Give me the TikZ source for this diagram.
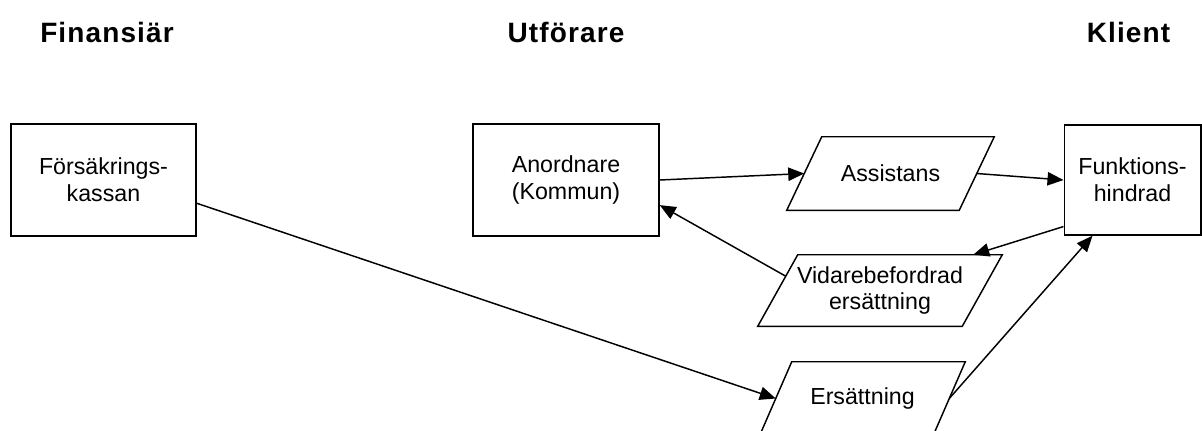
\documentclass[tikz,border=0pt]{standalone}
\usepackage{fontspec}
\setmainfont{Liberation Sans}
\usetikzlibrary{arrows.meta,calc}
\newcommand\drawpara[2]{\draw[line width=1.1pt] ([xshift=#2]#1.north west) -- ([xshift=#2]#1.north east) -- ([xshift=-#2]#1.south east) -- ([xshift=-#2]#1.south west) -- cycle;}
\begin{document}
\begin{tikzpicture}[x=0.75pt,y=-0.75pt,
  every node/.style={font=\fontsize{17.4pt}{20pt}\selectfont, align=center},
  box/.style={draw, line width=1.1pt, rectangle, inner sep=0pt, minimum height=84pt},
  para/.style={rectangle, inner sep=0pt},
  head/.style={font=\fontsize{21pt}{24pt}\selectfont\bfseries\addfontfeature{LetterSpace=4}, anchor=base},
  conn/.style={line width=1.1pt, -{Triangle[length=12pt,width=10pt]}}]
\useasboundingbox (0,0) rectangle (1202,430);
\node[head] (h1) at (107,42) {Finansiär};
\node[head] (h2) at (566,42) {Utförare};
\node[head] (h3) at (1128.5,42) {Klient};
\node[box, minimum width=138.75pt] (fk) at (103.5,180) {Försäkrings-\\kassan};
\node[box, minimum width=139.5pt] (ano) at (566,180) {Anordnare\\(Kommun)};
\node[box, minimum width=102.4pt, minimum height=82.5pt] (fun) at (1132.5,180) {Funktions-\\hindrad};
\node[para, minimum width=129pt, minimum height=54.75pt] (ass) at (890.5,173.5) {Assistans};
\node[para, minimum width=153pt, minimum height=53.25pt] (vid) at (880,290.5) {Vidarebefordrad\\ersättning};
\node[para, minimum width=129.75pt, minimum height=54.75pt] (ers) at (862.5,398.5) {Ersättning};
\drawpara{ass}{13.125pt}
\drawpara{vid}{15pt}
\drawpara{ers}{12pt}
\draw[conn] (fk.-14.5) -- (ers.west);
\draw[conn] (ano.east) -- (ass.west);
\draw[conn] (ass.east) -- (fun.west);
\draw[conn] (fun.214.8) -- ($([xshift=15pt]vid.north west)!0.858!([xshift=15pt]vid.north east)$);
\draw[conn] ($([xshift=15pt]vid.north west)!0.3!([xshift=-15pt]vid.south west)$) -- (ano.-15);
\draw[conn] (ers.east) -- ($(fun.south west)!0.21!(fun.south east)$);
\end{tikzpicture}
\end{document}
